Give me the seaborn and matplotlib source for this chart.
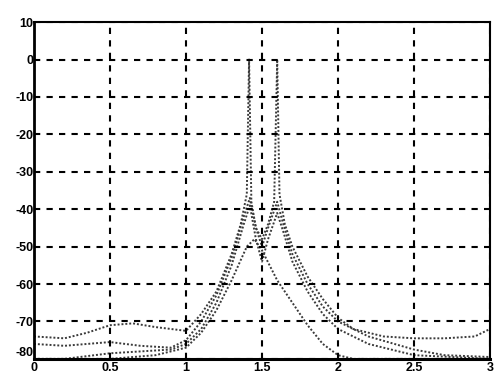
import numpy as np
import pandas as pd
import matplotlib
matplotlib.use("Agg")
import matplotlib.pyplot as plt
import seaborn as sns

# ---- data ----
x1 = [0.0, 0.2, 0.35, 0.5, 0.65, 0.8, 1.0, 1.1, 1.2, 1.3, 1.36, 1.4, 1.415, 1.43, 1.46, 1.5, 1.54, 1.58, 1.6, 1.615, 1.65, 1.7, 1.8, 1.9, 2.0, 2.1, 2.3, 2.5, 2.7, 2.9, 3.0]
y1 = [-74, -74.5, -73, -71, -70.5, -71.5, -72.5, -68, -62, -52, -44, -36, 0, -38, -45, -48, -44, -38, 0, -36, -44, -50, -58, -64, -69, -72, -74, -74.5, -74.5, -74, -72]

x2 = [0.0, 0.2, 0.5, 0.7, 0.9, 1.0, 1.1, 1.2, 1.3, 1.38, 1.42, 1.46, 1.5, 1.54, 1.6, 1.64, 1.7, 1.8, 1.9, 2.0, 2.2, 2.5, 2.7, 3.0]
y2 = [-76, -76.5, -75.5, -76.5, -77, -75, -70, -63, -53, -42, -37, -45, -50, -45, -38, -44, -52, -60, -66, -70, -74, -77.5, -79, -79.5]

x3 = [0.0, 0.2, 0.4, 0.5, 0.7, 0.9, 1.0, 1.1, 1.2, 1.3, 1.38, 1.42, 1.46, 1.5, 1.54, 1.6, 1.64, 1.7, 1.8, 1.9, 2.0, 2.2, 2.5, 3.0]
y3 = [-80, -80, -79, -78.5, -78, -77.5, -76, -72, -65, -55, -44, -39, -48, -54, -48, -41, -46, -54, -62, -68, -72, -76, -79, -80]

x4 = [0.0, 0.5, 0.8, 1.0, 1.1, 1.2, 1.3, 1.4, 1.45, 1.5, 1.55, 1.6, 1.7, 1.8, 1.9, 2.0, 2.1, 3.0]
y4 = [-80, -80, -79, -77, -73, -67, -59, -50, -48, -51, -55, -59, -65, -71, -76, -79, -80, -80]

xticks = [0, 0.5, 1, 1.5, 2, 2.5, 3]
xticklabels = ["0", "0.5", "1", "1.5", "2", "2.5", "3"]
yticks = [10, 0, -10, -20, -30, -40, -50, -60, -70, -80]
yticklabels = ["10", "0", "-10", "-20", "-30", "-40", "-50", "-60", "-70", "-80"]

frames = []
for name, xs, ys in [("a", x1, y1), ("b", x2, y2), ("c", x3, y3), ("d", x4, y4)]:
    frames.append(pd.DataFrame({"x": xs, "y": ys, "curve": name}))
df = pd.concat(frames, ignore_index=True)

sns.set_style("white")
plt.rcParams["font.family"] = ["Liberation Sans", "DejaVu Sans"]

fig = plt.figure(figsize=(5.0, 3.81), dpi=100)
ax = fig.add_axes([0.068, 0.058, 0.912, 0.884])

sns.lineplot(data=df, x="x", y="y", hue="curve", units="curve", estimator=None,
             palette=["#3a3a3a"] * 4, legend=False, sort=False, ax=ax,
             linewidth=1.4)
for ln in ax.get_lines():
    ln.set_linestyle((0, (1, 1)))

ax.set_xlim(0, 3)
ax.set_ylim(-80, 10)
ax.set_xticks(xticks)
ax.set_xticklabels(xticklabels)
ax.set_yticks(yticks)
ax.set_yticklabels(yticklabels)
ax.set_xlabel("")
ax.set_ylabel("")

ax.grid(True, color="black", linestyle=(0, (3, 3)), linewidth=1.5)
ax.set_axisbelow(False)

for side, lw in [("left", 2.0), ("bottom", 2.2), ("top", 1.5), ("right", 1.5)]:
    ax.spines[side].set_visible(True)
    ax.spines[side].set_color("black")
    ax.spines[side].set_linewidth(lw)

ax.tick_params(axis="both", direction="in", length=3, width=1.2, colors="black",
               labelsize=9)
ax.tick_params(axis="y", pad=0.5)
ax.tick_params(axis="x", pad=2.5)
for lab in ax.get_xticklabels() + ax.get_yticklabels():
    lab.set_fontweight("bold")
# nudge the lowest y label up a little so it clears the "0" x label
ylabs = ax.get_yticklabels()
ylabs[-1].set_verticalalignment("bottom")

fig.savefig("out.png", dpi=100)
